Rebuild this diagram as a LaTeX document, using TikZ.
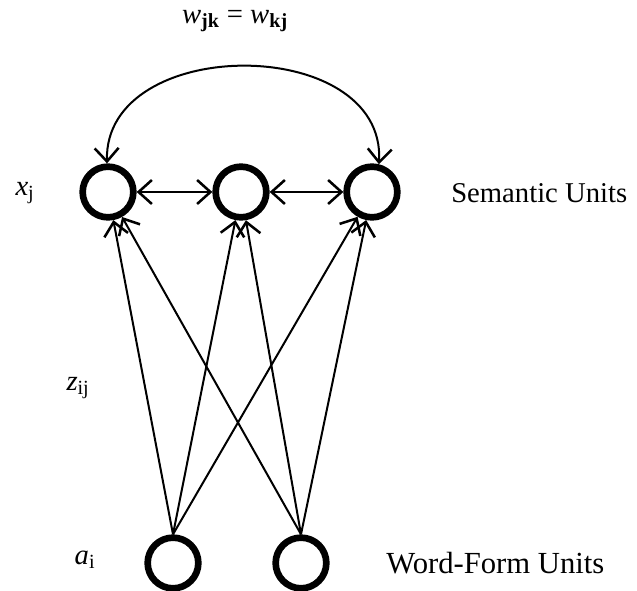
\documentclass[tikz,border=0pt]{standalone}
\usepackage{fontspec}
\usepackage{amsmath}
\setmainfont{Liberation Serif}
\usetikzlibrary{arrows.meta}
\begin{document}
\begin{tikzpicture}[x=0.75pt, y=-0.75pt, >={Straight Barb[length=10pt, width=18pt, line width=1.9pt]},
		unit/.style={circle, draw, line width=5pt, minimum size=38pt, inner sep=0pt},
		lbl/.style={inner sep=0pt, font=\fontsize{21.5}{26}\selectfont}]
			\useasboundingbox (0,0) rectangle (637,591);
			% semantic layer
			\node[unit] (t1) at (108,192) {};
			\node[unit] (t2) at (241,192) {};
			\node[unit] (t3) at (372,192) {};
			% word-form layer
			\node[unit] (b1) at (173,563) {};
			\node[unit] (b2) at (301,563) {};
			\draw[<->, line width=1.5pt] (t1) -- (t2);
			\draw[<->, line width=1.5pt] (t2) -- (t3);
			\draw[<->, line width=1.5pt] (t1.92) .. controls (104,34) and (386,34) .. (t3.76);
			\foreach \b in {b1, b2} {
					\foreach \t in {t1, t2, t3} {
							\draw[->, line width=1.5pt] (\b.north) -- (\t);
						}
				}
			\node[lbl] (wlbl) at (235,21) {\textit{w}$_{\textbf{jk}}$ = \textit{w}$_{\textbf{kj}}$};
			\node[lbl] (xlbl) at (25,193) {\textit{x}$_{\text{j}}$};
			\node[lbl] (zlbl) at (78,388) {\textit{z}$_{\text{ij}}$};
			\node[lbl] (albl) at (85,560) {\textit{a}$_{\text{i}}$};
			\node[lbl, anchor=west] (sem) at (451,193) {Semantic Units};
			\node[lbl, anchor=west, font=\fontsize{23}{27}\selectfont] (wf) at (386,563) {Word-Form Units};
		\end{tikzpicture}
\end{document}
